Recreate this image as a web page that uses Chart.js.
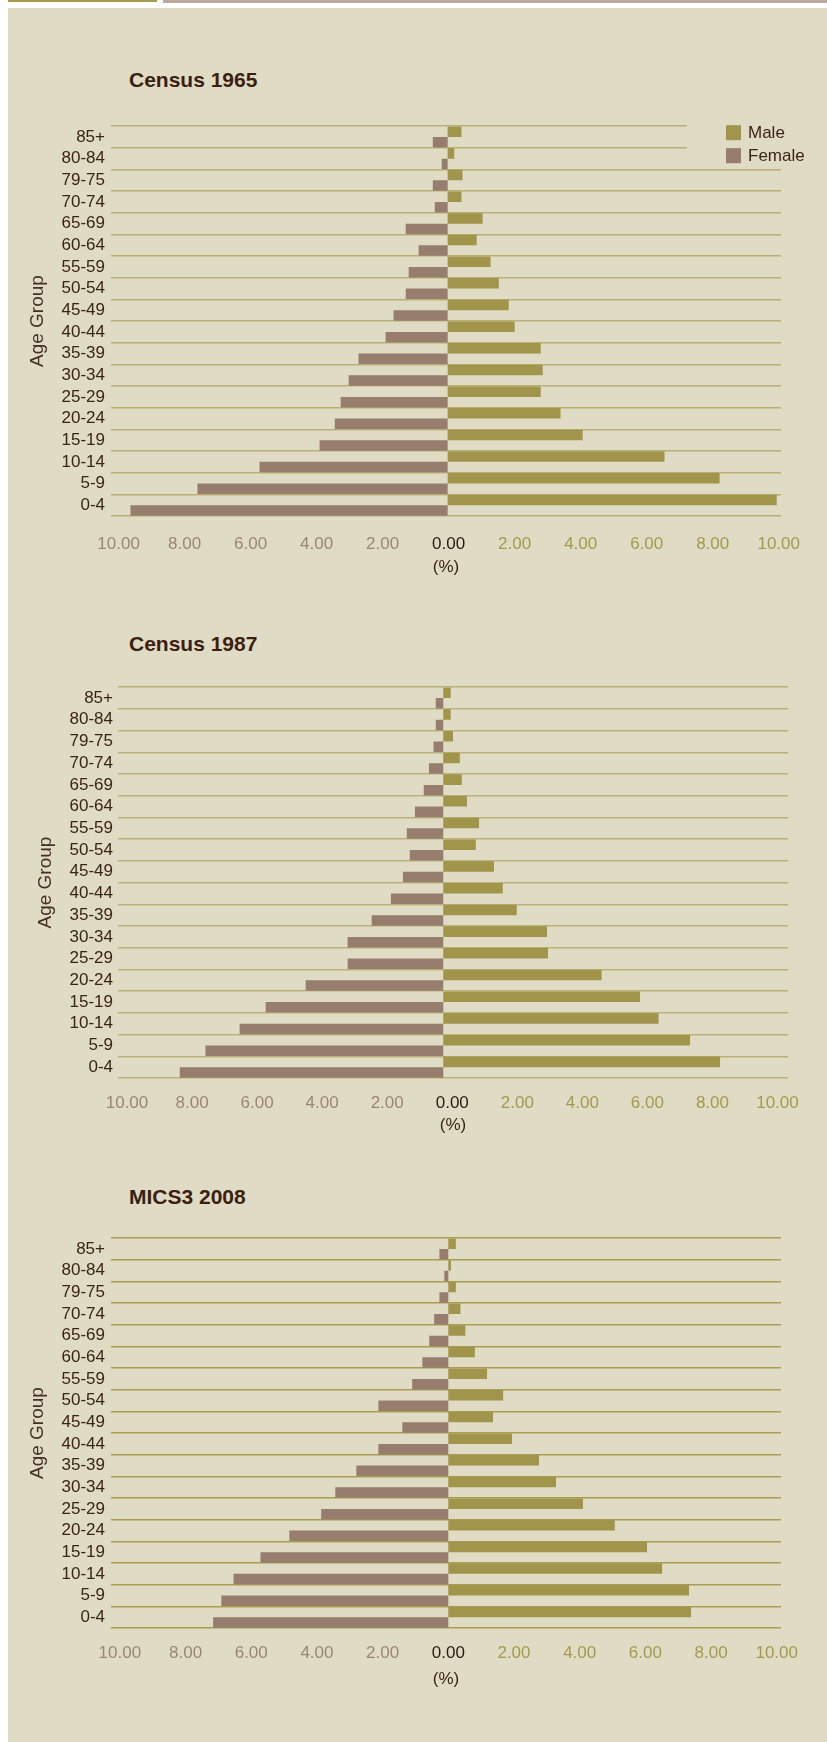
<!DOCTYPE html>
<html>
<head>
<meta charset="utf-8">
<script src="https://cdn.jsdelivr.net/npm/chart.js@4.4.1/dist/chart.umd.min.js"></script>
<style>
  html, body { margin: 0; padding: 0; background: #fff; }
  body { width: 827px; height: 1742px; position: relative; overflow: hidden; font-family: 'Liberation Sans', Arial, sans-serif; }
  .strip-a { position: absolute; left: 8px; top: 0; width: 149px; height: 2px; background: #a49b4f; }
  .strip-b { position: absolute; left: 163px; top: 0; width: 664px; height: 3px; background: #bca89e; }
  .panel { position: absolute; left: 8px; top: 8px; right: 0; bottom: 0; background: #e0dbc5; }
  .title { position: absolute; left: 129px; font: bold 21px 'Liberation Sans', Arial, sans-serif; color: #3c1e12; line-height: 24px; }
  .box { position: absolute; left: 0; width: 827px; height: 476px; }
</style>
</head>
<body>
<div class="strip-a"></div>
<div class="strip-b"></div>
<div class="panel"></div>

<div class="title" style="top:68px">Census 1965</div>
<div class="box" style="top:110px"><canvas id="c1965" width="827" height="476"></canvas></div>

<div class="title" style="top:632px">Census 1987</div>
<div class="box" style="top:672px"><canvas id="c1987" width="827" height="476"></canvas></div>

<div class="title" style="top:1185px">MICS3 2008</div>
<div class="box" style="top:1222px"><canvas id="c2008" width="827" height="476"></canvas></div>

<script>
// age groups, top to bottom as printed
const ageGroups = ['85+', '80-84', '79-75', '70-74', '65-69', '60-64', '55-59', '50-54', '45-49',
  '40-44', '35-39', '30-34', '25-29', '20-24', '15-19', '10-14', '5-9', '0-4'];
const xTicks = [-10, -8, -6, -4, -2, 0, 2, 4, 6, 8, 10];

// percent of population, same order as ageGroups
const male1965 = [0.42, 0.20, 0.45, 0.42, 1.06, 0.88, 1.30, 1.55, 1.85, 2.03, 2.82, 2.88, 2.82, 3.42, 4.09, 6.57, 8.24, 9.97];
const female1965 = [0.45, 0.18, 0.45, 0.39, 1.27, 0.88, 1.18, 1.27, 1.64, 1.88, 2.70, 3.00, 3.24, 3.42, 3.88, 5.70, 7.58, 9.61];

const male1987 = [0.23, 0.23, 0.30, 0.51, 0.57, 0.73, 1.10, 1.00, 1.56, 1.83, 2.26, 3.19, 3.22, 4.87, 6.05, 6.62, 7.59, 8.51];
const female1987 = [0.23, 0.23, 0.30, 0.44, 0.60, 0.87, 1.12, 1.03, 1.24, 1.61, 2.20, 2.94, 2.94, 4.23, 5.46, 6.26, 7.31, 8.10];

const male2008 = [0.23, 0.08, 0.23, 0.37, 0.52, 0.81, 1.18, 1.67, 1.36, 1.94, 2.76, 3.28, 4.10, 5.07, 6.05, 6.51, 7.33, 7.39];
const female2008 = [0.27, 0.12, 0.27, 0.43, 0.58, 0.79, 1.10, 2.13, 1.40, 2.13, 2.80, 3.44, 3.87, 4.84, 5.72, 6.54, 6.91, 7.16];

const maleColor = '#a0954a';
const femaleColor = '#967d6e';
const darkText = '#3a2416';
const family = "'Liberation Sans', Arial, sans-serif";

// legend in the top right corner of the first chart
const cornerLegend = {
  id: 'cornerLegend',
  beforeDatasetsDraw(chart) {
    const { ctx, chartArea, scales } = chart;
    const cut = (scales.y.getPixelForValue(1) + scales.y.getPixelForValue(2)) / 2 - 2;
    ctx.save();
    ctx.fillStyle = '#e0dbc5';
    ctx.fillRect(chartArea.right - 94, chartArea.top - 3, 100, cut - chartArea.top + 3);
    ctx.font = '17px ' + family;
    ctx.textBaseline = 'middle';
    chart.data.datasets.forEach((ds, i) => {
      const x = chartArea.right - 55;
      const y = chartArea.top - 1 + i * 23;
      ctx.fillStyle = ds.backgroundColor;
      ctx.fillRect(x, y, 15, 15);
      ctx.fillStyle = darkText;
      ctx.fillText(ds.label, x + 22, y + 8);
    });
    ctx.restore();
  }
};

function drawPyramid(id, male, female, look) {
  new Chart(document.getElementById(id), {
    type: 'bar',
    data: {
      labels: ageGroups,
      datasets: [
        { label: 'Male', data: male, backgroundColor: maleColor },
        { label: 'Female', data: female.map(v => -v), backgroundColor: femaleColor }
      ]
    },
    options: {
      indexAxis: 'y',
      responsive: false,
      animation: false,
      datasets: { bar: { categoryPercentage: 0.97, barPercentage: 1 } },
      layout: { padding: { top: 10, right: look.right, left: 0, bottom: 0 } },
      plugins: { legend: { display: false }, tooltip: { enabled: false } },
      scales: {
        x: {
          min: look.min,
          max: look.max,
          grid: { display: false },
          border: { display: false },
          afterBuildTicks: axis => { axis.ticks = xTicks.map(v => ({ value: v })); },
          afterFit: axis => { axis.height = 70; },
          ticks: {
            padding: look.tickPad,
            labelOffset: look.labelOffset,
            autoSkip: false,
            maxRotation: 0,
            font: { size: 17, family },
            color: ctx => ctx.tick.value < 0 ? '#9b8676' : (ctx.tick.value > 0 ? '#a39a4c' : '#2b1a10'),
            callback: v => Math.abs(v).toFixed(2)
          },
          title: {
            display: true,
            text: '(%)',
            color: darkText,
            font: { size: 17, family },
            padding: { top: 0, bottom: look.unitPad }
          }
        },
        y: {
          grid: { color: look.gridColor, lineWidth: 1.5, drawTicks: false },
          border: { display: false },
          afterFit: axis => { axis.width = look.left; },
          ticks: { autoSkip: false, padding: look.labelGap, font: { size: 17, family }, color: darkText },
          title: {
            display: true,
            text: 'Age Group',
            color: '#463024',
            font: { size: 19, family },
            padding: { top: look.titleX - 11.4, bottom: 0 }
          }
        }
      }
    },
    plugins: look.legend ? [cornerLegend] : []
  });
}

drawPyramid('c1965', male1965, female1965, {
  min: -10.2, max: 10.1, left: 111, right: 46, labelGap: 6, titleX: 38,
  tickPad: 10.5, labelOffset: 1, unitPad: 8, gridColor: '#bab073', legend: true
});
drawPyramid('c1987', male1987, female1987, {
  min: -10, max: 10.6, left: 118, right: 39, labelGap: 5, titleX: 46,
  tickPad: 7, labelOffset: 9, unitPad: 12, gridColor: '#bcb278', legend: false
});
drawPyramid('c2008', male2008, female2008, {
  min: -10.27, max: 10.13, left: 111, right: 46, labelGap: 6, titleX: 38,
  tickPad: 7, labelOffset: 0, unitPad: 8, gridColor: '#a99e50', legend: false
});
</script>
</body>
</html>
